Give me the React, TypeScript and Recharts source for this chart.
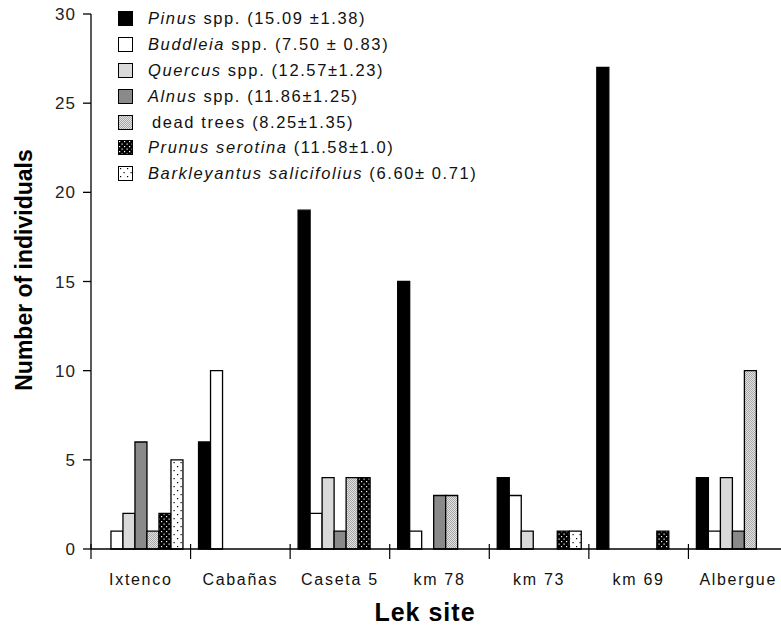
import { BarChart, Bar, XAxis, YAxis } from 'recharts';

const sites = ['Ixtenco', 'Cabañas', 'Caseta 5', 'km 78', 'km 73', 'km 69', 'Albergue'];
const pinus = [0, 6, 19, 15, 4, 27, 4];
const buddleia = [1, 10, 2, 1, 3, 0, 1];
const quercus = [2, 0, 4, 0, 1, 0, 4];
const alnus = [6, 0, 1, 3, 0, 0, 1];
const deadTrees = [1, 0, 4, 3, 0, 0, 10];
const prunus = [2, 0, 4, 0, 1, 1, 0];
const barkleyantus = [5, 0, 0, 0, 1, 0, 0];
const yTicks = [0, 5, 10, 15, 20, 25, 30];

const series = [
  { key: 'pinus', values: pinus, fill: '#000000', italic: 'Pinus', rest: ' spp. (15.09 ±1.38)' },
  { key: 'buddleia', values: buddleia, fill: '#ffffff', italic: 'Buddleia', rest: ' spp. (7.50 ± 0.83)' },
  { key: 'quercus', values: quercus, fill: '#dadada', italic: 'Quercus', rest: ' spp. (12.57±1.23)' },
  { key: 'alnus', values: alnus, fill: '#8a8a8a', italic: 'Alnus', rest: ' spp. (11.86±1.25)' },
  { key: 'dead', values: deadTrees, fill: 'url(#deadPat)', italic: '', rest: ' dead trees (8.25±1.35)' },
  { key: 'prunus', values: prunus, fill: 'url(#prunusPat)', italic: 'Prunus serotina', rest: ' (11.58±1.0)' },
  { key: 'bark', values: barkleyantus, fill: 'url(#barkPat)', italic: 'Barkleyantus salicifolius', rest: ' (6.60± 0.71)' },
];

const data = sites.map((site, i) => {
  const row: Record<string, string | number> = { site };
  series.forEach((s) => { row[s.key] = s.values[i]; });
  return row;
});

const CHART_W = 790;
const CHART_H = 627;
const Y_AXIS_W = 91;
const MARGIN = { top: 14, right: 2, bottom: 0, left: 0 };
const BAND = (CHART_W - Y_AXIS_W - MARGIN.right) / sites.length;
const FONT = '"Liberation Sans", Arial, sans-serif';

function SiteTick({ x, y, payload }: any) {
  const edge = x - BAND / 2;
  return (
    <g>
      <line x1={edge} x2={edge} y1={y - 5} y2={y + 10} stroke="#000" strokeWidth={1.2} />
      <text x={x} y={y + 36} textAnchor="middle" fontSize={16} letterSpacing={1.7} fill="#111" fontFamily={FONT}>
        {payload.value}
      </text>
    </g>
  );
}

function LegendBox() {
  return (
    <div style={{ position: 'absolute', left: 118, top: 6, fontFamily: FONT, fontSize: 16.5, letterSpacing: 1.6, color: '#111' }}>
      {series.map((s) => (
        <div key={s.key} style={{ display: 'flex', alignItems: 'center', height: 25.8, whiteSpace: 'nowrap' }}>
          <svg width={15} height={15} style={{ flexShrink: 0 }}>
            <rect x={0.5} y={0.5} width={14} height={14} fill={s.fill} stroke="#000" strokeWidth={1} />
          </svg>
          <span style={{ marginLeft: s.italic ? 15 : 19 }}>
            {s.italic && <i>{s.italic}</i>}
            {s.italic ? s.rest : s.rest.trimStart()}
          </span>
        </div>
      ))}
    </div>
  );
}

export default function App() {
  return (
    <div style={{ position: 'absolute', left: 0, top: 0, width: 781, height: 627, overflow: 'hidden', background: '#fff' }}>
      <BarChart width={CHART_W} height={CHART_H} data={data} margin={MARGIN} barGap={0} barCategoryGap="8%">
        <defs>
          <pattern id="deadPat" width={2} height={2} patternUnits="userSpaceOnUse">
            <rect width={2} height={2} fill="#e2e2e2" />
            <rect x={0} y={0} width={1} height={1} fill="#a8a8a8" />
            <rect x={1} y={1} width={1} height={1} fill="#a8a8a8" />
          </pattern>
          <pattern id="prunusPat" width={5} height={5} patternUnits="userSpaceOnUse">
            <rect width={5} height={5} fill="#000" />
            <rect x={1} y={1} width={1.2} height={1.2} fill="#fff" />
            <rect x={3.5} y={3.5} width={1.2} height={1.2} fill="#fff" />
          </pattern>
          <pattern id="barkPat" width={7} height={8} patternUnits="userSpaceOnUse">
            <rect width={7} height={8} fill="#fff" />
            <rect x={2} y={2} width={1.2} height={1.2} fill="#000" />
            <rect x={5.5} y={6} width={1.2} height={1.2} fill="#000" />
          </pattern>
        </defs>
        <XAxis
          dataKey="site"
          interval={0}
          height={78}
          tickLine={false}
          tickSize={0}
          tickMargin={0}
          axisLine={{ stroke: '#000', strokeWidth: 1.3 }}
          tick={<SiteTick />}
        />
        <YAxis
          width={Y_AXIS_W}
          domain={[0, 30]}
          ticks={yTicks}
          tickSize={8}
          tickMargin={7}
          axisLine={{ stroke: '#000', strokeWidth: 1.3 }}
          tickLine={{ stroke: '#000', strokeWidth: 1.3 }}
          tick={{ fontSize: 17, fill: '#222', fontFamily: FONT, letterSpacing: 1 }}
        />
        {series.map((s) => (
          <Bar key={s.key} dataKey={s.key} fill={s.fill} stroke="#000" strokeWidth={1.3} isAnimationActive={false} />
        ))}
      </BarChart>
      <LegendBox />
      <div
        style={{
          position: 'absolute', left: 24, top: 270, transform: 'translate(-50%, -50%) rotate(-90deg)',
          whiteSpace: 'nowrap', fontFamily: FONT, fontWeight: 'bold', fontSize: 23, lineHeight: 1, color: '#000',
        }}
      >
        Number of individuals
      </div>
      <div
        style={{
          position: 'absolute', left: 425, top: 600, transform: 'translateX(-50%)',
          whiteSpace: 'nowrap', fontFamily: FONT, fontWeight: 'bold', fontSize: 25, letterSpacing: 1, lineHeight: 1, color: '#000',
        }}
      >
        Lek site
      </div>
    </div>
  );
}
